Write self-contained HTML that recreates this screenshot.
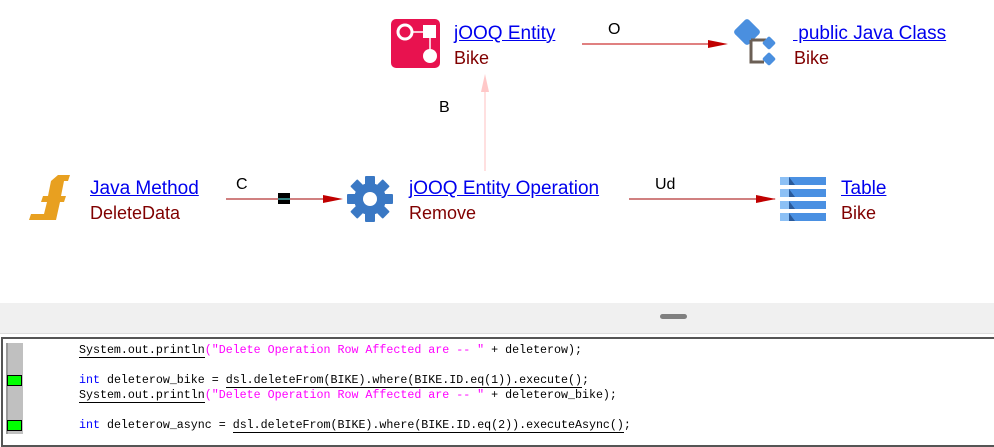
<!DOCTYPE html>
<html><head><meta charset="utf-8"><style>
body{margin:0;width:994px;height:434px;background:#fff;position:relative;overflow:hidden;font-family:"Liberation Sans",Arial,sans-serif}
.a{position:absolute;white-space:nowrap}
.t{font-size:19px;color:#0000ee;text-decoration:underline}
.s{font-size:18px;color:#800000}
.l{font-size:16px;color:#000}
.code{position:absolute;left:79px;font-family:"Liberation Mono",monospace;font-size:11.65px;white-space:pre;color:#000;line-height:13px}
.u{border-bottom:1px solid #000}
.k{color:#0000ff}.str{color:#ff00ff}
</style></head><body>
<svg class="a" style="left:0;top:0" width="994" height="300">
<rect x="391" y="19" width="49" height="49" rx="5" fill="#e8124f"/>
<circle cx="405" cy="32" r="7" fill="none" stroke="#fff" stroke-width="3"/>
<line x1="412" y1="32" x2="423" y2="32" stroke="#fff" stroke-width="1.5"/>
<rect x="423" y="25" width="13" height="13" fill="#fff"/>
<line x1="430" y1="38" x2="430" y2="50" stroke="#fff" stroke-width="1.5"/>
<circle cx="430" cy="56" r="7" fill="#fff"/>
<line x1="582" y1="44" x2="726" y2="44" stroke="#c00000" stroke-width="1"/>
<polygon points="708,40 728,44 708,48" fill="#c00000"/>
<rect x="737" y="22" width="20" height="20" rx="3" fill="#4a8fdf" transform="rotate(45 747 32)"/>
<path d="M751 40 V62 H764 M751 40 H766" fill="none" stroke="#6b5f55" stroke-width="3"/>
<rect x="764" y="38" width="10" height="10" rx="2" fill="#4a8fdf" transform="rotate(45 769 43)"/>
<rect x="764" y="54" width="10" height="10" rx="2" fill="#4a8fdf" transform="rotate(45 769 59)"/>
<line x1="485" y1="78" x2="485" y2="171" stroke="#ffc0c0" stroke-width="1"/>
<polygon points="481,92 485,74 489,92" fill="#ffc8c8"/>
<path d="M58 175 L70 175 L68 181 L64 181 L61 196 L66 196 L64 202 L60 202 L56 220 L29 220 L31 214 L44 214 L47 202 L41 202 L43 196 L48 196 L51 181 Z" fill="#e8a020"/>
<line x1="226" y1="199" x2="341" y2="199" stroke="#a00000" stroke-width="1"/>
<rect x="278" y="193" width="12" height="11" fill="#000"/>
<line x1="278" y1="199" x2="290" y2="199" stroke="#6ff" stroke-width="1"/>
<polygon points="323,195 343,199 323,203" fill="#c00000"/>
<g transform="translate(370 199)" fill="#3a78c4">
<circle r="16"/>
<g id="tooth"><rect x="-5" y="-23" width="10" height="10" rx="1"/></g>
<use href="#tooth" transform="rotate(45)"/><use href="#tooth" transform="rotate(90)"/><use href="#tooth" transform="rotate(135)"/>
<use href="#tooth" transform="rotate(180)"/><use href="#tooth" transform="rotate(225)"/><use href="#tooth" transform="rotate(270)"/><use href="#tooth" transform="rotate(315)"/>
<circle r="7" fill="#fff"/>
</g>
<line x1="629" y1="199" x2="775" y2="199" stroke="#a00000" stroke-width="1"/>
<polygon points="756,195 776,199 756,203" fill="#c00000"/>
<g>
<rect x="780" y="177" width="46" height="8" fill="#4a90e2"/><rect x="780" y="177" width="9" height="8" fill="#8cc0f5"/><polygon points="789,177 795,185 789,185" fill="#2a5a9a"/>
<rect x="780" y="189" width="46" height="8" fill="#4a90e2"/><rect x="780" y="189" width="9" height="8" fill="#8cc0f5"/><polygon points="789,189 795,197 789,197" fill="#2a5a9a"/>
<rect x="780" y="201" width="46" height="8" fill="#4a90e2"/><rect x="780" y="201" width="9" height="8" fill="#8cc0f5"/><polygon points="789,201 795,209 789,209" fill="#2a5a9a"/>
<rect x="780" y="213" width="46" height="8" fill="#4a90e2"/><rect x="780" y="213" width="9" height="8" fill="#8cc0f5"/><polygon points="789,213 795,221 789,221" fill="#2a5a9a"/>
</g>
</svg>
<div class="a t" style="left:454px;top:23px">jOOQ Entity</div>
<div class="a s" style="left:454px;top:48px">Bike</div>
<div class="a l" style="left:608px;top:21px">O</div>
<div class="a t" style="left:793px;top:23px">&nbsp;public Java Class</div>
<div class="a s" style="left:794px;top:48px">Bike</div>
<div class="a l" style="left:439px;top:99px">B</div>
<div class="a t" style="left:90px;top:178px">Java Method</div>
<div class="a s" style="left:90px;top:203px">DeleteData</div>
<div class="a l" style="left:236px;top:176px">C</div>
<div class="a t" style="left:409px;top:178px">jOOQ Entity Operation</div>
<div class="a s" style="left:409px;top:203px">Remove</div>
<div class="a l" style="left:655px;top:176px">Ud</div>
<div class="a t" style="left:841px;top:178px">Table</div>
<div class="a s" style="left:841px;top:203px">Bike</div>

<div class="a" style="left:0;top:303px;width:994px;height:30px;background:#f0f0f0;border-bottom:1px solid #ddd"></div>
<div class="a" style="left:660px;top:314px;width:27px;height:5px;border-radius:3px;background:#808080"></div>
<div class="a" style="left:1px;top:337px;width:1000px;height:110px;border:2px solid #555;box-sizing:border-box;background:#fff"></div>
<div class="a" style="left:6px;top:343px;width:2px;height:91px;background:#999"></div>
<div class="a" style="left:8px;top:343px;width:15px;height:91px;background:#c0c0c0"></div>
<div class="a" style="left:7px;top:375px;width:15px;height:11px;background:#00ff00;border:1px solid #000;box-sizing:border-box"></div>
<div class="a" style="left:7px;top:420px;width:15px;height:11px;background:#00ff00;border:1px solid #000;box-sizing:border-box"></div>
<div class="code" style="top:344px"><span class="u">System.out.println</span><span class="str">("Delete Operation Row Affected are -- "</span> + deleterow);</div>
<div class="code" style="top:374px"><span class="k">int</span> deleterow_bike = <span class="u">dsl.deleteFrom(BIKE).where(BIKE.ID.eq(1)).execute()</span>;</div>
<div class="code" style="top:389px"><span class="u">System.out.println</span><span class="str">("Delete Operation Row Affected are -- "</span> + deleterow_bike);</div>
<div class="code" style="top:419px"><span class="k">int</span> deleterow_async = <span class="u">dsl.deleteFrom(BIKE).where(BIKE.ID.eq(2)).executeAsync()</span>;</div>
</body></html>
